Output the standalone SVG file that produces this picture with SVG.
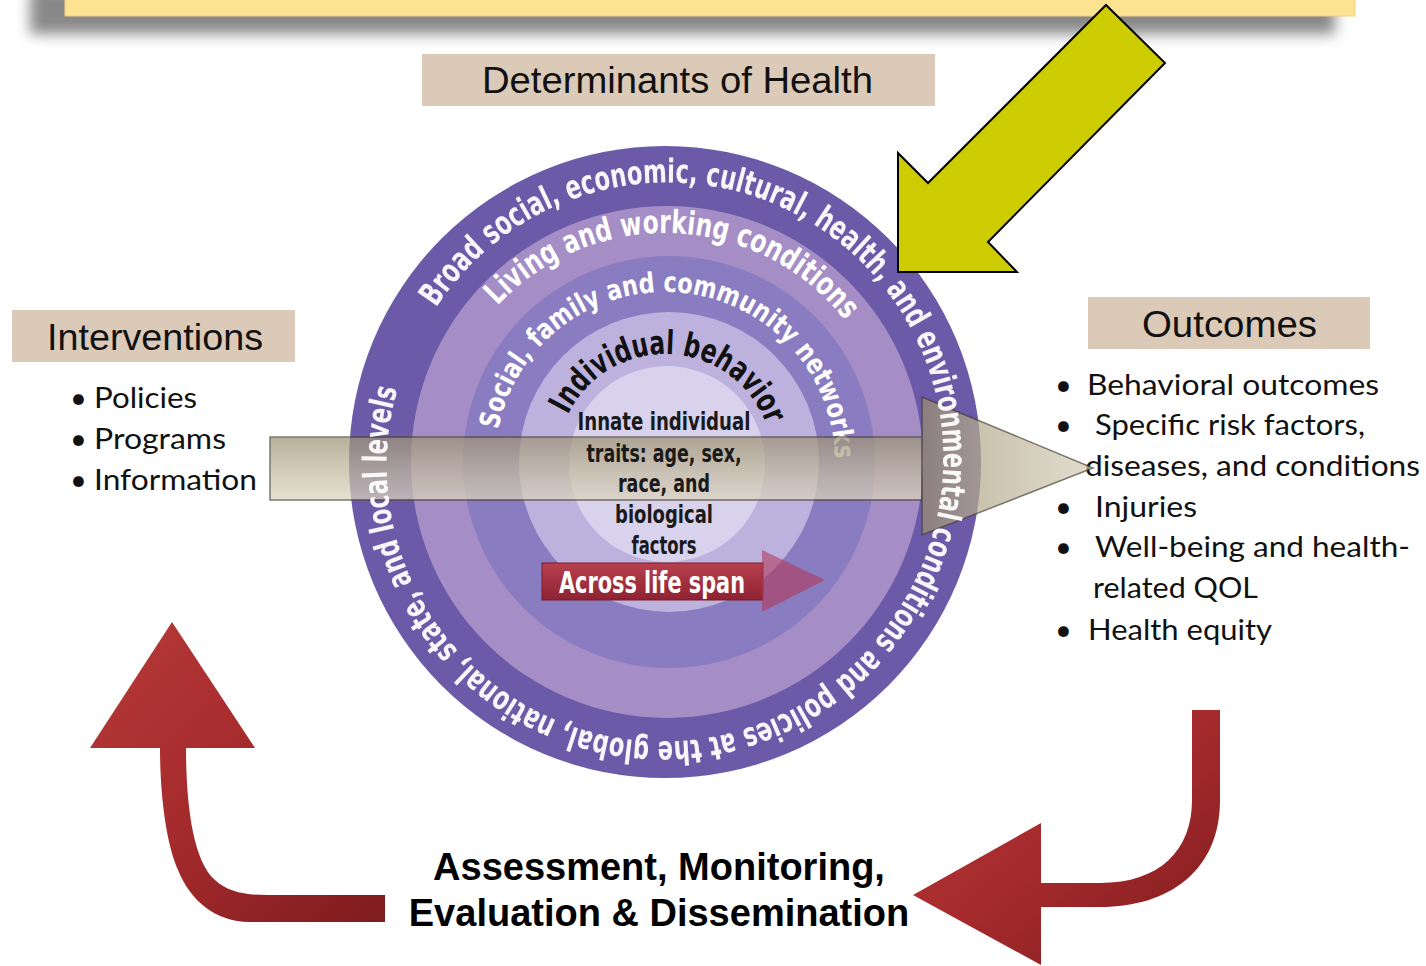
<svg xmlns="http://www.w3.org/2000/svg" width="1426" height="966" viewBox="0 0 1426 966">
<style>
.hdr{font-family:"Liberation Sans",Arial,sans-serif;font-size:36px;fill:#111;}
.lst{font-family:Lato,"Open Sans","Liberation Sans",sans-serif;font-size:29px;fill:#111;}
.cond{font-family:"DejaVu Sans Condensed","Roboto Condensed","Liberation Sans Narrow","Liberation Sans",sans-serif;font-weight:bold;font-stretch:condensed;}
.ringw{fill:#ffffff;}
.inn{font-size:24px;fill:#1a1a1a;text-anchor:middle;}
.bold{font-family:"Liberation Sans",Arial,sans-serif;font-weight:bold;font-size:38px;fill:#000;text-anchor:middle;}
.box{fill:#dccab8;}
</style>
<defs>
<filter id="blur" x="-5%" y="-100%" width="110%" height="300%"><feGaussianBlur stdDeviation="7"/></filter>
<linearGradient id="bodyG" x1="0" y1="0" x2="0" y2="1">
<stop offset="0" stop-color="#9c9274"/><stop offset="0.5" stop-color="#c0b79b"/><stop offset="1" stop-color="#ddd6c0"/>
</linearGradient>
<linearGradient id="headG" x1="0" y1="0" x2="1" y2="0">
<stop offset="0" stop-color="#9a8e70"/><stop offset="0.3" stop-color="#b4aa8c"/><stop offset="1" stop-color="#d8d0bc"/>
</linearGradient>
<linearGradient id="redG" x1="0" y1="0" x2="1" y2="1">
<stop offset="0" stop-color="#b83a3a"/><stop offset="0.5" stop-color="#a52a2c"/><stop offset="1" stop-color="#7e1c1e"/>
</linearGradient>
<linearGradient id="spanG" x1="0" y1="0" x2="0" y2="1">
<stop offset="0" stop-color="#b8404e"/><stop offset="1" stop-color="#8e2232"/>
</linearGradient>
<path id="pOuter" d="M436.2,307.7 A276,276 0 1 1 893.8,616.3 A276,276 0 1 1 436.2,307.7"/>
<path id="pRing2" d="M497.5,305.8 A229,229 0 1 1 832.5,618.2 A229,229 0 1 1 497.5,305.8"/>
<path id="pRing3" d="M498.1,429.6 A170,170 0 1 1 831.9,494.4 A170,170 0 1 1 498.1,429.6"/>
<path id="pRing4" d="M567.9,414.7 A108,108 0 1 1 762.1,509.3 A108,108 0 1 1 567.9,414.7"/>
</defs>

<g id="banner">
<rect x="30" y="-12" width="1305" height="46" fill="#888" filter="url(#blur)"/>
<rect x="65" y="-2" width="1290" height="18" fill="#fde292" stroke="#f3d27c" stroke-width="1"/>
</g>

<g id="determinants">
<rect class="box" x="422" y="54" width="513" height="52"/>
<text class="hdr" x="482" y="93" textLength="391" lengthAdjust="spacingAndGlyphs">Determinants of Health</text>
</g>

<g id="interventions">
<rect class="box" x="12" y="310" width="283" height="52"/>
<text class="hdr" x="47" y="350" textLength="216" lengthAdjust="spacingAndGlyphs">Interventions</text>
<text class="lst" x="70" y="408">•</text><text class="lst" x="94" y="408" textLength="103" lengthAdjust="spacingAndGlyphs">Policies</text>
<text class="lst" x="70" y="449">•</text><text class="lst" x="94" y="449" textLength="132" lengthAdjust="spacingAndGlyphs">Programs</text>
<text class="lst" x="70" y="490">•</text><text class="lst" x="94" y="490" textLength="163" lengthAdjust="spacingAndGlyphs">Information</text>
</g>

<g id="outcomes">
<rect class="box" x="1088" y="297" width="282" height="52"/>
<text class="hdr" x="1142" y="337" textLength="175" lengthAdjust="spacingAndGlyphs">Outcomes</text>
<text class="lst" x="1055" y="395">•</text><text class="lst" x="1087" y="395" textLength="292" lengthAdjust="spacingAndGlyphs">Behavioral outcomes</text>
<text class="lst" x="1055" y="435">•</text><text class="lst" x="1095" y="435" textLength="270" lengthAdjust="spacingAndGlyphs">Specific risk factors,</text>
<text class="lst" x="1085" y="476" textLength="335" lengthAdjust="spacingAndGlyphs">diseases, and conditions</text>
<text class="lst" x="1055" y="517">•</text><text class="lst" x="1095" y="517" textLength="102" lengthAdjust="spacingAndGlyphs">Injuries</text>
<text class="lst" x="1055" y="557">•</text><text class="lst" x="1095" y="557" textLength="315" lengthAdjust="spacingAndGlyphs">Well-being and health-</text>
<text class="lst" x="1093" y="598" textLength="165" lengthAdjust="spacingAndGlyphs">related QOL</text>
<text class="lst" x="1055" y="640">•</text><text class="lst" x="1088" y="640" textLength="184" lengthAdjust="spacingAndGlyphs">Health equity</text>
</g>

<g id="determinants-circle">
<circle cx="665" cy="462" r="316" fill="#6b5aa8"/>
<circle cx="667" cy="462" r="256" fill="#a58dc5"/>
<circle cx="669" cy="462" r="206" fill="#8a7cc0"/>
<circle cx="669" cy="462" r="150" fill="#bdb2de"/>
<circle cx="667" cy="464" r="98" fill="#d8d2ec"/>
<text class="cond ringw" font-size="28"><textPath href="#pRing3" textLength="498" lengthAdjust="spacingAndGlyphs">Social, family and community networks</textPath></text>
</g>

<g id="life-span">
<rect x="542" y="563" width="221" height="37" fill="url(#spanG)" stroke="#7a1a26" stroke-width="1"/>
<polygon points="762,550 825,580 762,612" fill="#b03a5c" fill-opacity="0.6"/>
<text class="cond" x="559" y="593" font-size="30" fill="#ffffff" textLength="186" lengthAdjust="spacingAndGlyphs">Across life span</text>
</g>

<g id="connectors">
<g id="big-arrow" opacity="0.72">
<rect x="270" y="437" width="652" height="63" fill="url(#bodyG)" stroke="#4a4436" stroke-width="1.5"/>
<polygon points="922,397 1093,468 922,535" fill="url(#headG)" stroke="#4a4436" stroke-width="1.5"/>
</g>
<path id="yellow-arrow" d="M1106,5 L1165,63 L988,242 L1017,272 L898,272 L898,153 L928,183 Z" fill="#cccc00" stroke="#000" stroke-width="2"/>
<path id="red-left" d="M172,622 L255,748 L186,748 C186,800 192,860 215,880 C228,892 245,895 268,895 L385,895 L385,922 L250,922 C215,922 190,900 178,870 C165,840 160,790 160,748 L90,748 Z" fill="url(#redG)"/>
<path id="red-right" d="M1192,710 L1220,710 L1220,800 C1220,870 1170,907 1100,907 L1041,907 L1041,965 L913,895 L1041,823 L1041,883 L1100,883 C1160,883 1192,850 1192,800 Z" fill="url(#redG)"/>
</g>

<g id="circle-labels">
<text class="cond ringw" font-size="33" opacity="0.95"><textPath href="#pOuter" textLength="1660" lengthAdjust="spacingAndGlyphs">Broad social, economic, cultural, health, and environmental conditions and policies at the global, national, state, and local levels</textPath></text>
<text class="cond ringw" font-size="32"><textPath href="#pRing2" textLength="395" lengthAdjust="spacingAndGlyphs">Living and working conditions</textPath></text>
<text class="cond" font-size="33" fill="#111"><textPath href="#pRing4" textLength="252" lengthAdjust="spacingAndGlyphs">Individual behavior</textPath></text>
<text class="cond inn" x="664" y="430" textLength="173" lengthAdjust="spacingAndGlyphs">Innate individual</text>
<text class="cond inn" x="664" y="462" textLength="155" lengthAdjust="spacingAndGlyphs">traits: age, sex,</text>
<text class="cond inn" x="664" y="492" textLength="92" lengthAdjust="spacingAndGlyphs">race, and</text>
<text class="cond inn" x="664" y="523" textLength="98" lengthAdjust="spacingAndGlyphs">biological</text>
<text class="cond inn" x="664" y="554" textLength="65" lengthAdjust="spacingAndGlyphs">factors</text>
</g>

<g id="assessment">
<text class="bold" x="659" y="880">Assessment, Monitoring,</text>
<text class="bold" x="659" y="926">Evaluation &amp; Dissemination</text>
</g>
</svg>
